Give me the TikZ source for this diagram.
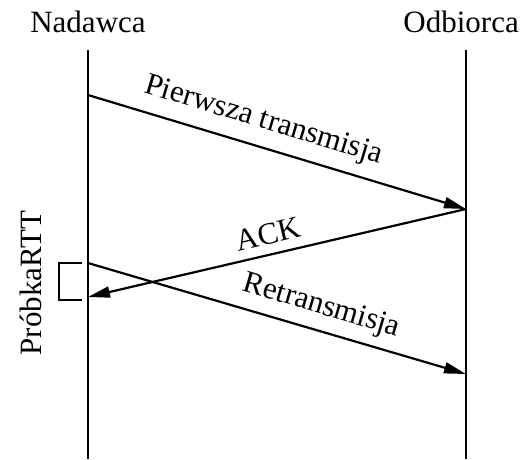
\documentclass[tikz,border=0pt]{standalone}
\usepackage{fontspec}
\setmainfont{Liberation Serif}
\usetikzlibrary{arrows.meta}
\begin{document}
\begin{tikzpicture}[x=1pt,y=-1pt,
  lab/.style={font=\fontsize{31}{34}\selectfont, inner sep=0pt},
  msg/.style={line width=2.2pt, -{Triangle[length=22pt,width=11pt]}},
  life/.style={line width=2.2pt}]
\useasboundingbox (0,0) rectangle (521,459);
\node[lab, anchor=base] (snd) at (88,32) {Nadawca};
\node[lab, anchor=base east] (rcv) at (519,32) {Odbiorca};
\coordinate (sT) at (88,50);
\coordinate (sB) at (88,459);
\coordinate (rT) at (466,50);
\coordinate (rB) at (466,459);
\draw[life] (sT) -- (sB);
\draw[life] (rT) -- (rB);
\coordinate (s1) at (88,95);
\coordinate (r1) at (466,209);
\coordinate (s2) at (88,297);
\coordinate (s3) at (88,263);
\coordinate (r3) at (466,374);
\draw[msg] (s1) -- node[lab, sloped, pos=0.445, above=11pt] {Pierwsza transmisja} (r1);
\draw[msg] (r1) -- node[lab, sloped, pos=0.51, above=9pt] {ACK} (s2);
\draw[msg] (s3) -- node[lab, sloped, pos=0.60, above=9pt] {Retransmisja} (r3);
\coordinate (b1) at (82,263);
\coordinate (b2) at (59,263);
\coordinate (b3) at (59,300);
\coordinate (b4) at (82,300);
\draw[life] (b1) -- (b2) -- (b3) -- (b4);
\node[lab, rotate=90] (rtt) at (31,283) {PróbkaRTT};
\end{tikzpicture}
\end{document}
